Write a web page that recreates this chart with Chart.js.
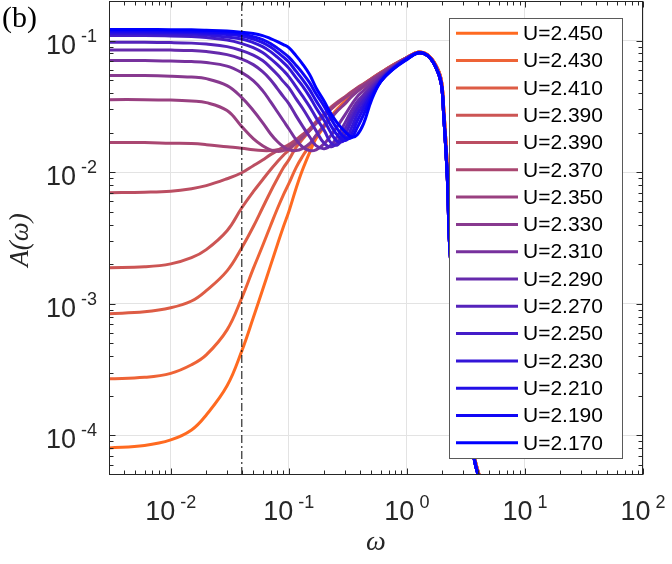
<!DOCTYPE html>
<html>
<head>
<meta charset="utf-8">
<script src="https://cdn.jsdelivr.net/npm/chart.js@4.4.1/dist/chart.umd.min.js"></script>
<style>
  body { margin: 0; background: #fff; }
  canvas { display: block; }
</style>
</head>
<body>
<canvas id="spectrum" width="672" height="564"></canvas>
<script>
// frequency grid (shared by every curve)
const omega = [0.003, 0.006, 0.01, 0.015, 0.02, 0.03, 0.04, 0.05, 0.06, 0.07, 0.08, 0.09, 0.1, 0.115, 0.13, 0.15, 0.17, 0.2, 0.23, 0.26, 0.3, 0.34, 0.38, 0.43, 0.5, 0.6, 0.75, 1.0,
               1.26, 1.5, 1.75, 1.95, 2.05, 2.2, 2.35, 3.0, 3.7, 4.5];

const uLabels = ['U=2.450', 'U=2.430', 'U=2.410', 'U=2.390', 'U=2.390', 'U=2.370', 'U=2.350', 'U=2.330',
                 'U=2.310', 'U=2.290', 'U=2.270', 'U=2.250', 'U=2.230', 'U=2.210', 'U=2.190', 'U=2.170'];

// A(omega) for omega <= 1
const u2450  = [8.03e-5, 8.39e-5, 9.24e-5, 1.10e-4, 1.43e-4, 2.38e-4, 4.39e-4, 7.83e-4, 1.28e-3, 1.95e-3, 2.81e-3, 3.85e-3, 5.01e-3, 7.49e-3, 0.0103, 0.0141, 0.0180, 0.0222, 0.0264, 0.0299, 0.0344, 0.0382, 0.0417, 0.0447, 0.0496, 0.0561, 0.0635, 0.0743];
const u2430  = [2.69e-4, 2.76e-4, 2.96e-4, 3.44e-4, 4.09e-4, 6.34e-4, 1.11e-3, 1.85e-3, 2.76e-3, 3.92e-3, 5.28e-3, 6.74e-3, 8.18e-3, 0.0108, 0.0131, 0.0159, 0.0190, 0.0230, 0.0269, 0.0304, 0.0344, 0.0382, 0.0413, 0.0447, 0.0496, 0.0561, 0.0640, 0.0743];
const u2410  = [8.4e-4, 8.69e-4, 9.32e-4, 1.05e-3, 1.26e-3, 1.78e-3, 2.67e-3, 3.85e-3, 5.37e-3, 7.11e-3, 8.92e-3, 0.0108, 0.0124, 0.0154, 0.0177, 0.0207, 0.0238, 0.0274, 0.0304, 0.0332, 0.0369, 0.0402, 0.0432, 0.0463, 0.0510, 0.0571, 0.0646, 0.0743];
const u2390a = [1.88e-3, 1.91e-3, 2.01e-3, 2.24e-3, 2.58e-3, 3.59e-3, 5.37e-3, 7.11e-3, 8.77e-3, 0.01045, 0.0120, 0.01347, 0.0147, 0.0168, 0.0186, 0.0211, 0.0238, 0.0274, 0.0309, 0.0338, 0.0372, 0.0406, 0.0435, 0.0467, 0.0514, 0.0571, 0.0646, 0.0743];
const u2390b = [6.99e-3, 7.05e-3, 7.17e-3, 7.49e-3, 7.9e-3, 8.92e-3, 9.91e-3, 0.0112, 0.0124, 0.0136, 0.0146, 0.0154, 0.0162, 0.0177, 0.0193, 0.0214, 0.0242, 0.0278, 0.0315, 0.0344, 0.0375, 0.0409, 0.0439, 0.0471, 0.0514, 0.0571, 0.0646, 0.0743];
const u2370  = [0.0168, 0.0168, 0.0166, 0.0165, 0.0162, 0.0156, 0.0152, 0.0148, 0.0146, 0.0146, 0.0148, 0.0154, 0.0159, 0.0174, 0.0190, 0.0211, 0.0238, 0.0274, 0.0309, 0.0338, 0.0369, 0.0402, 0.0432, 0.0463, 0.0505, 0.0561, 0.0635, 0.0743];
const u2350  = [0.0356, 0.0356, 0.0353, 0.0347, 0.0338, 0.0294, 0.0222, 0.0180, 0.0159, 0.0148, 0.0144, 0.0146, 0.0151, 0.0165, 0.0183, 0.0207, 0.0234, 0.0269, 0.0304, 0.0338, 0.0369, 0.0402, 0.0432, 0.0463, 0.0505, 0.0561, 0.0635, 0.0743];
const u2330  = [0.0542, 0.0542, 0.0537, 0.0528, 0.0514, 0.0455, 0.0369, 0.0294, 0.0238, 0.0196, 0.0171, 0.0156, 0.0148, 0.0146, 0.0151, 0.0165, 0.0190, 0.0226, 0.0260, 0.0294, 0.0332, 0.0375, 0.0409, 0.0447, 0.0496, 0.0561, 0.0635, 0.0740];
const u2310  = [0.0705, 0.0705, 0.0699, 0.0693, 0.0681, 0.0640, 0.0571, 0.0496, 0.0417, 0.0344, 0.0288, 0.0246, 0.0214, 0.0177, 0.0156, 0.0146, 0.0148, 0.0165, 0.0193, 0.0226, 0.0274, 0.0326, 0.0375, 0.0417, 0.0471, 0.0542, 0.0624, 0.0730];
const u2290  = [0.0850, 0.0850, 0.0847, 0.0840, 0.0825, 0.0783, 0.0723, 0.0657, 0.0581, 0.0505, 0.0432, 0.0375, 0.0332, 0.0269, 0.0226, 0.0186, 0.0159, 0.0151, 0.0162, 0.0190, 0.0238, 0.0294, 0.0344, 0.0388, 0.0447, 0.0523, 0.0613, 0.0730];
const u2270  = [0.0971, 0.0971, 0.0966, 0.0957, 0.0941, 0.0900, 0.0840, 0.0776, 0.0705, 0.0624, 0.0552, 0.0488, 0.0439, 0.0362, 0.0309, 0.0251, 0.0207, 0.0165, 0.0156, 0.0171, 0.0214, 0.0269, 0.0320, 0.0369, 0.0432, 0.0514, 0.0613, 0.0730];
const u2250  = [0.1092, 0.1092, 0.1086, 0.1073, 0.1054, 0.1009, 0.0949, 0.0885, 0.0811, 0.0730, 0.0657, 0.0592, 0.0533, 0.0447, 0.0382, 0.0315, 0.0260, 0.0207, 0.0165, 0.0162, 0.0193, 0.0246, 0.0299, 0.0350, 0.0417, 0.0505, 0.0613, 0.0730];
const u2230  = [0.1131, 0.1131, 0.1127, 0.1117, 0.1101, 0.1063, 0.1027, 0.0966, 0.0900, 0.0825, 0.0749, 0.0681, 0.0618, 0.0523, 0.0455, 0.0375, 0.0309, 0.0246, 0.0196, 0.0171, 0.0177, 0.0218, 0.0274, 0.0326, 0.0402, 0.0496, 0.0602, 0.0730];
const u2210  = [0.1161, 0.1161, 0.1157, 0.1151, 0.1137, 0.1111, 0.1082, 0.1027, 0.0966, 0.0893, 0.0818, 0.0749, 0.0687, 0.0586, 0.0510, 0.0424, 0.0350, 0.0278, 0.0222, 0.0190, 0.0174, 0.0196, 0.0246, 0.0304, 0.0388, 0.0488, 0.0602, 0.0730];
const u2190  = [0.1187, 0.1187, 0.1185, 0.1179, 0.1167, 0.1145, 0.1121, 0.1073, 0.1018, 0.0949, 0.0877, 0.0811, 0.0749, 0.0651, 0.0571, 0.0479, 0.0395, 0.0315, 0.0251, 0.0211, 0.0183, 0.0183, 0.0218, 0.0274, 0.0369, 0.0488, 0.0602, 0.0723];
const u2170  = [0.1213, 0.1213, 0.1211, 0.1207, 0.1198, 0.1181, 0.1157, 0.1131, 0.1092, 0.1036, 0.0983, 0.0933, 0.0885, 0.0769, 0.0669, 0.0552, 0.0439, 0.0344, 0.0274, 0.0234, 0.0203, 0.0185, 0.0193, 0.0234, 0.0350, 0.0488, 0.0597, 0.0717];

// omega > 1: the peak and the fall, nearly common to all curves
const tailWarm = [0.0818, 0.0780, 0.0655, 0.0510, 0.0310, 0.0110, 0.0026, 3.5e-4, 7.2e-5, 3.8e-5];
const tailCool = [0.0808, 0.0769, 0.0635, 0.0479, 0.0274, 0.0092, 0.00212, 3.09e-4, 6.75e-5, 3.6e-5];

const cutoffOmega = 0.04;

const xTickValues = [0.01, 0.1, 1, 10, 100];
const xTickExps = ['-2', '-1', '0', '1', '2'];
const yTickValues = [1e-4, 1e-3, 1e-2, 1e-1];
const yTickExps = ['-4', '-3', '-2', '-1'];

const lineColors = ['#ff6a20', '#ee6336', '#dd5c45', '#cc5554', '#bb4e62', '#aa4771', '#994080', '#88398f',
                    '#77319d', '#662aac', '#5523bb', '#441cc9', '#3315d8', '#220ee7', '#1107f5', '#0000ff'];

const curves = [u2450, u2430, u2410, u2390a, u2390b, u2370, u2350, u2330, u2310, u2290, u2270, u2250, u2230, u2210, u2190, u2170];

const X_MIN = 0.003, X_MAX = 100, Y_MIN = 5e-5, Y_MAX = 0.2;

let datasets = curves.map((head, i) => {
    let vals = head.concat(i < 4 ? tailWarm : tailCool);
    return {
        label: uLabels[i],
        data: omega.map((w, j) => ({x: w, y: vals[j]})),
        borderColor: lineColors[i],
        borderWidth: 3,
        pointRadius: 0,
        tension: 0.4,
        borderJoinStyle: 'round',
        fill: false,
        clip: 0,
        order: curves.length - i
    };
});

// vertical dash-dot marker
datasets.push({
    label: 'cutoff',
    data: [{x: cutoffOmega, y: Y_MIN}, {x: cutoffOmega, y: Y_MAX}],
    borderColor: '#000',
    borderWidth: 1,
    borderDash: [8, 3, 2, 3],
    pointRadius: 0,
    clip: 0,
    order: 0
});

const BASE_FONT = '27px "Liberation Sans", Arial, sans-serif';
const EXP_FONT = '18px "Liberation Sans", Arial, sans-serif';

function drawPow(ctx, exp, x, y, align) {
    ctx.font = BASE_FONT;
    let w1 = ctx.measureText('10').width;
    ctx.font = EXP_FONT;
    let w2 = ctx.measureText(exp).width;
    let gap = 5;
    let total = w1 + gap + w2;
    let start = align === 'center' ? x - total / 2 : x - total;
    ctx.textAlign = 'left';
    ctx.textBaseline = 'alphabetic';
    ctx.font = BASE_FONT;
    ctx.fillText('10', start, y);
    ctx.font = EXP_FONT;
    ctx.fillText(exp, start + w1 + gap, y - 12);
}

function minorValues(min, max) {
    let out = [];
    for (let d = -6; d <= 3; d++) {
        for (let m = 2; m <= 9; m++) {
            let v = m * Math.pow(10, d);
            if (v > min * 1.0001 && v < max * 0.9999) out.push(v);
        }
    }
    return out;
}

const matlabAxes = {
    id: 'matlabAxes',
    afterDraw(chart) {
        const ctx = chart.ctx;
        const a = chart.chartArea;
        const xs = chart.scales.x, ys = chart.scales.y;
        const L = Math.round(a.left) + 0.5, R = Math.round(a.right) - 0.5;
        const T = Math.round(a.top) + 0.5, B = Math.round(a.bottom) - 0.5;
        ctx.save();
        ctx.strokeStyle = '#262626';
        ctx.lineWidth = 1;
        ctx.strokeRect(L, T, R - L, B - T);

        // ticks, inward on all four sides
        ctx.beginPath();
        xTickValues.forEach(v => {
            let px = Math.round(xs.getPixelForValue(v)) + 0.5;
            ctx.moveTo(px, B); ctx.lineTo(px, B - 6);
            ctx.moveTo(px, T); ctx.lineTo(px, T + 6);
        });
        minorValues(X_MIN, X_MAX).forEach(v => {
            let px = Math.round(xs.getPixelForValue(v)) + 0.5;
            ctx.moveTo(px, B); ctx.lineTo(px, B - 4);
            ctx.moveTo(px, T); ctx.lineTo(px, T + 4);
        });
        yTickValues.forEach(v => {
            let py = Math.round(ys.getPixelForValue(v)) + 0.5;
            ctx.moveTo(L, py); ctx.lineTo(L + 6, py);
            ctx.moveTo(R, py); ctx.lineTo(R - 6, py);
        });
        minorValues(Y_MIN, Y_MAX).forEach(v => {
            let py = Math.round(ys.getPixelForValue(v)) + 0.5;
            ctx.moveTo(L, py); ctx.lineTo(L + 4, py);
            ctx.moveTo(R, py); ctx.lineTo(R - 4, py);
        });
        ctx.stroke();

        // tick labels
        ctx.fillStyle = '#262626';
        xTickValues.forEach((v, i) => drawPow(ctx, xTickExps[i], xs.getPixelForValue(v), 520, 'center'));
        yTickValues.forEach((v, i) => drawPow(ctx, yTickExps[i], 97, ys.getPixelForValue(v) + 13, 'right'));

        // axis titles
        ctx.fillStyle = '#262626';
        ctx.textAlign = 'center';
        ctx.textBaseline = 'middle';
        ctx.font = 'italic 28px "Liberation Serif", "Times New Roman", serif';
        ctx.fillText('\u03c9', (a.left + a.right) / 2, 543);
        ctx.save();
        ctx.translate(21, 240);
        ctx.rotate(-Math.PI / 2);
        ctx.font = 'italic 27px "Liberation Serif", "Times New Roman", serif';
        ctx.fillText('A(\u03c9)', 0, 0);
        ctx.restore();

        // panel tag
        ctx.fillStyle = '#000';
        ctx.textAlign = 'left';
        ctx.textBaseline = 'alphabetic';
        ctx.font = '30px "Liberation Serif", "Times New Roman", serif';
        ctx.fillText('(b)', 2, 27);

        // legend
        const lx = 449, ly = 18, lw = 174, lh = 441;
        ctx.fillStyle = '#fff';
        ctx.fillRect(lx, ly, lw, lh);
        ctx.strokeStyle = '#5a5a5a';
        ctx.lineWidth = 1;
        ctx.strokeRect(lx + 0.5, ly + 0.5, lw - 1, lh - 1);
        ctx.font = '21px "Liberation Sans", Arial, sans-serif';
        ctx.textBaseline = 'middle';
        uLabels.forEach((lab, i) => {
            let yy = 33.3 + i * 27.3;
            ctx.strokeStyle = lineColors[i];
            ctx.lineWidth = 3;
            ctx.beginPath();
            ctx.moveTo(456, yy); ctx.lineTo(518, yy);
            ctx.stroke();
            ctx.fillStyle = '#000';
            ctx.fillText(lab, 523, yy + 1);
        });
        ctx.restore();
    }
};

const majorOnly = values => scale => { scale.ticks = values.map(v => ({value: v})); };

new Chart(document.getElementById('spectrum').getContext('2d'), {
    type: 'line',
    data: {datasets: datasets},
    options: {
        responsive: false,
        animation: false,
        devicePixelRatio: 1,
        layout: {padding: {top: 1, right: 29, left: 0, bottom: 0}},
        plugins: {legend: {display: false}, tooltip: {enabled: false}},
        scales: {
            x: {
                type: 'logarithmic',
                min: X_MIN, max: X_MAX,
                afterBuildTicks: majorOnly(xTickValues),
                afterFit: s => { s.height = 89; },
                ticks: {display: false},
                border: {display: false},
                grid: {color: '#e3e3e3', lineWidth: 1, drawTicks: false}
            },
            y: {
                type: 'logarithmic',
                min: Y_MIN, max: Y_MAX,
                afterBuildTicks: majorOnly(yTickValues),
                afterFit: s => { s.width = 109; },
                ticks: {display: false},
                border: {display: false},
                grid: {color: '#e3e3e3', lineWidth: 1, drawTicks: false}
            }
        }
    },
    plugins: [matlabAxes]
});
</script>
</body>
</html>
